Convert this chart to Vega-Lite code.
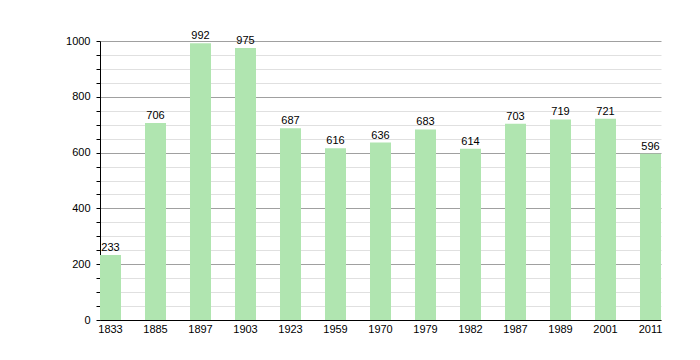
{
  "$schema": "https://vega.github.io/schema/vega-lite/v6.json",
  "autosize": {"type": "none"},
  "padding": {"left": 100, "top": 41, "right": 39, "bottom": 40},
  "width": 561,
  "height": 279,
  "background": "white",
  "config": {
    "view": {"stroke": null},
    "font": "Liberation Sans",
    "axis": {"labelFont": "Liberation Sans", "labelFontSize": 11, "labelColor": "#000"}
  },
  "data": {
    "values": [
      {"year": "1833", "pop": 233},
      {"year": "1885", "pop": 706},
      {"year": "1897", "pop": 992},
      {"year": "1903", "pop": 975},
      {"year": "1923", "pop": 687},
      {"year": "1959", "pop": 616},
      {"year": "1970", "pop": 636},
      {"year": "1979", "pop": 683},
      {"year": "1982", "pop": 614},
      {"year": "1987", "pop": 703},
      {"year": "1989", "pop": 719},
      {"year": "2001", "pop": 721},
      {"year": "2011", "pop": 596}
    ]
  },
  "encoding": {
    "x": {
      "field": "year", "type": "nominal", "sort": null,
      "scale": {"paddingInner": 0.5333, "paddingOuter": 0},
      "axis": {
        "title": null, "labelAngle": 0, "ticks": false, "domainColor": "#000",
        "labelPadding": 3
      }
    },
    "y": {
      "field": "pop", "type": "quantitative",
      "scale": {"domain": [0, 1000], "nice": false},
      "axis": {
        "title": null,
        "values": [0,50,100,150,200,250,300,350,400,450,500,550,600,650,700,750,800,850,900,950,1000],
        "labelExpr": "datum.value % 200 === 0 ? datum.label : ''",
        "format": "d",
        "grid": true,
        "gridColor": {"condition": {"test": "datum.value % 200 === 0", "value": "#a0a0a0"}, "value": "#e0e0e0"},
        "tickColor": "#000",
        "tickSize": 4,
        "domainColor": "#000",
        "labelPadding": 6
      }
    }
  },
  "layer": [
    {"mark": {"type": "bar", "color": "#b0e5b0"}},
    {
      "mark": {"type": "text", "baseline": "bottom", "dy": -2, "fontSize": 11, "color": "#000"},
      "encoding": {"text": {"field": "pop", "type": "quantitative"}}
    }
  ]
}
